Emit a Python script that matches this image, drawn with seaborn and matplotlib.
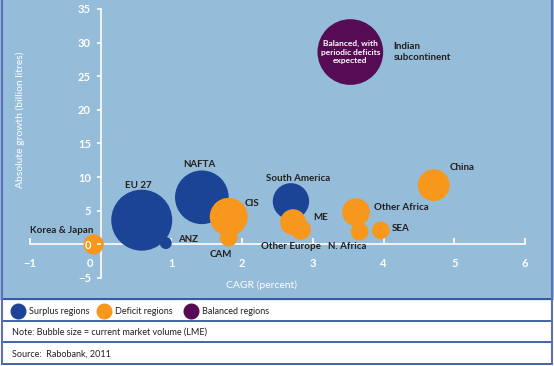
import matplotlib
matplotlib.use("Agg")
import matplotlib.pyplot as plt
import matplotlib.patches as mpatches
import matplotlib.transforms as mtransforms
from matplotlib.lines import Line2D
import pandas as pd
import seaborn as sns

# data
regions = ["EU 27", "NAFTA", "South America", "ANZ",
           "Korea & Japan", "CIS", "CAM", "Other Europe", "ME",
           "Other Africa", "N. Africa", "SEA", "China",
           "Indian subcontinent"]
cagr = [0.58, 1.43, 2.69, 0.92, -0.10, 1.81, 1.81, 2.72, 2.83, 3.61, 3.66, 3.96, 4.71, 3.53]
growth = [3.6, 7.0, 6.4, 0.2, 0.0, 4.1, 1.0, 3.3, 2.2, 4.8, 1.9, 2.1, 8.8, 28.6]
volume = [155, 120, 55, 6, 17, 60, 13, 28, 17, 32, 13, 13, 42, 180]
group = ["Surplus regions"] * 4 + ["Deficit regions"] * 9 + ["Balanced regions"]

group_names = ["Surplus regions", "Deficit regions", "Balanced regions"]
x_ticks = [-1, 0, 1, 2, 3, 4, 5, 6]
y_ticks = [-5, 0, 5, 10, 15, 20, 25, 30, 35]

colors = {"Surplus regions": "#1b4497", "Deficit regions": "#f7981d",
          "Balanced regions": "#560b55"}
BG = "#95bcd8"
LINE = "#1f4a9a"
DARK = "#231f20"

# label anchors (data coords) and alignment
label_pos = {
    "EU 27": (0.53, 8.8, "center"),
    "NAFTA": (1.39, 11.9, "center"),
    "South America": (2.79, 9.8, "center"),
    "ANZ": (1.09, 0.75, "left"),
    "Korea & Japan": (-1.0, 2.1, "left"),
    "CIS": (2.04, 6.1, "left"),
    "CAM": (1.70, -1.5, "center"),
    "Other Europe": (2.69, -0.3, "center"),
    "ME": (3.0, 4.0, "left"),
    "Other Africa": (3.86, 5.5, "left"),
    "N. Africa": (3.49, -0.3, "center"),
    "SEA": (4.12, 2.4, "left"),
    "China": (4.93, 11.5, "left"),
    "Indian subcontinent": (4.14, 28.6, "left"),
}

df = pd.DataFrame({"region": regions, "cagr": cagr, "growth": growth,
                   "volume": volume, "group": group})

plt.rcParams["font.family"] = ["Lato", "DejaVu Sans"]

W, H = 554, 366
fig = plt.figure(figsize=(W / 100, H / 100), dpi=100)
fig.patch.set_facecolor("white")

# light blue chart panel
fig.add_artist(mpatches.Rectangle((0, 1 - 299 / H), 1, 299 / H,
                                  transform=fig.transFigure, color=BG, zorder=0))

ax = fig.add_axes([30 / W, 1 - 278 / H, 495 / W, 269 / H])
ax.set_facecolor("none")

vmax = max(volume)
sns.scatterplot(data=df, x="cagr", y="growth", hue="group", palette=colors,
                size="volume", sizes=(0, 12.44 * vmax), size_norm=(0, vmax),
                linewidth=0, alpha=1, legend=False, ax=ax, zorder=3)

ax.set_xlim(-1, 6)
ax.set_ylim(-5, 35)
ax.set_xticks(x_ticks)
ax.set_yticks(y_ticks)
ax.set_xlabel("")
ax.set_ylabel("")

for s in ["top", "right"]:
    ax.spines[s].set_visible(False)
ax.spines["left"].set_position(("data", 0))
ax.spines["bottom"].set_position(("data", 0))
for s in ["left", "bottom"]:
    ax.spines[s].set_color("white")
    ax.spines[s].set_linewidth(1.2)

ax.tick_params(axis="x", direction="in", length=4, width=1.2, colors="white",
               labelsize=8, pad=10)
ax.tick_params(axis="y", direction="out", length=3, width=1.2, colors="white",
               labelsize=8, pad=4)
ax.yaxis.set_zorder(4)
for lab in ax.get_xticklabels() + ax.get_yticklabels():
    lab.set_fontweight("bold")
# x tick "0" sits a little left of the y spine
xl = ax.get_xticklabels()[1]
xl.set_transform(xl.get_transform() + mtransforms.ScaledTranslation(-8 / 72, 0, fig.dpi_scale_trans))

for name, (lx, ly, ha) in label_pos.items():
    txt = name.replace("Indian ", "Indian\n")
    ax.text(lx, ly, txt, ha=ha, va="center", fontsize=7, fontweight="bold",
            color=DARK, zorder=5, linespacing=1.3)

# text inside the balanced bubble
row = df[df["group"] == "Balanced regions"].iloc[0]
ax.text(row["cagr"], row["growth"], "Balanced, with\nperiodic deficits\nexpected",
        ha="center", va="center", fontsize=6, fontweight="bold", color="white",
        zorder=5, linespacing=1.2)

fig.text(20 / W, 1 - 120 / H, "Absolute growth (billion litres)", rotation=90,
         ha="center", va="center", fontsize=7.5, color="white")
fig.text(262 / W, 1 - 285 / H, "CAGR (percent)", ha="center", va="center",
         fontsize=7.5, color="white")

# legend + note rows
for yy in [299, 321, 342, 364]:
    fig.add_artist(Line2D([2 / W, 552 / W], [1 - yy / H] * 2, transform=fig.transFigure,
                          color=LINE, lw=1.2))
for xx in [2, 552]:
    fig.add_artist(Line2D([xx / W] * 2, [1 - 364 / H, 1], transform=fig.transFigure,
                          color="#5b70b8", lw=1.5))

leg_x = [18, 104, 191]
for gx, gname in zip(leg_x, group_names):
    fig.add_artist(Line2D([gx / W], [1 - 311 / H], marker="o", markersize=10.5,
                          color=colors[gname], transform=fig.transFigure, lw=0))
    fig.text((gx + 11) / W, 1 - 311 / H, gname, ha="left", va="center",
             fontsize=6.5, color=DARK)

fig.text(12 / W, 1 - 332 / H, "Note: Bubble size = current market volume (LME)",
         ha="left", va="center", fontsize=6.5, color=DARK)
fig.text(12 / W, 1 - 354 / H, "Source:  Rabobank, 2011",
         ha="left", va="center", fontsize=6.5, color=DARK)

fig.savefig("out.png", dpi=100, facecolor=fig.get_facecolor())
